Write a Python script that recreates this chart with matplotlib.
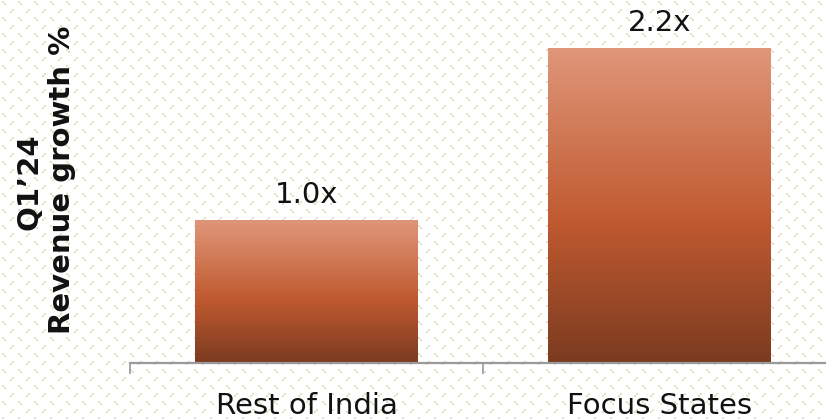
import numpy as np
import matplotlib
matplotlib.use("Agg")
import matplotlib.pyplot as plt
from matplotlib.colors import LinearSegmentedColormap

categories = ["Rest of India", "Focus States"]
growth = [1.0, 2.2]
value_labels = ["1.0x", "2.2x"]
ylabel_lines = ["Q1\u201924", "Revenue growth %"]

W, H, DPI = 826, 419, 100
fig = plt.figure(figsize=(W / DPI, H / DPI), dpi=DPI)
fig.patch.set_facecolor("white")

# dotted lattice backdrop
tile = np.ones((16, 16, 3))
dot = np.array([226, 223, 194]) / 255.0
def put(t, x, y):
    t[y:y + 2, x:x + 2] = dot
for (x, y) in [(2, 1), (4, 3)]:
    put(tile, x, y)
for (x, y) in [(12, 9), (10, 11)]:
    put(tile, x, y)
pattern = np.tile(tile, (H // 16 + 1, W // 16 + 1, 1))[:H, :W]
fig.figimage(pattern, 0, 0, zorder=-10)

ax_left, ax_bottom = 130 / W, (H - 363) / H
ax_w = 706 / W
ax_h = 363 / H
ax = fig.add_axes([ax_left, ax_bottom, ax_w, ax_h])
ax.set_zorder(5)
ax.patch.set_alpha(0)

x = np.arange(len(categories))
bars = ax.bar(x, growth, width=0.63, color="none", edgecolor="none", zorder=2)
ax.set_xlim(-0.5, len(categories) - 0.5)
ax.set_ylim(0, 2.535)

cmap = LinearSegmentedColormap.from_list(
    "copper_fade",
    [(0.0, "#7b3b20"), (0.45, "#c05a30"), (1.0, "#e0977a")],
)
grad = np.linspace(0, 1, 256).reshape(-1, 1)
for b in bars:
    x0, y0 = b.get_x(), b.get_y()
    x1, y1 = x0 + b.get_width(), y0 + b.get_height()
    im = ax.imshow(grad, cmap=cmap, origin="lower", aspect="auto",
                   extent=(x0, x1, y0, y1), zorder=2, interpolation="bilinear")
    im.set_clip_path(b)

for b, lab in zip(bars, value_labels):
    ax.annotate(lab, (b.get_x() + b.get_width() / 2, b.get_height()),
                xytext=(0, 12), textcoords="offset points",
                ha="center", va="baseline", fontsize=21, color="#111111")

for s in ["left", "right", "top"]:
    ax.spines[s].set_visible(False)
ax.spines["bottom"].set_color("#9a9a9a")
ax.spines["bottom"].set_linewidth(1.6)
ax.set_yticks([])
ax.set_xticks(x)
ax.set_xticklabels(categories, fontsize=21, color="#111111")
ax.tick_params(axis="x", which="major", length=0, pad=21)
ax.set_xticks(np.arange(-0.5, len(categories)), minor=True)
ax.tick_params(axis="x", which="minor", length=8, width=1.2, color="#9a9a9a")
ax.set_xlim(-0.5, len(categories) - 0.5)
ax.set_ylim(0, 2.535)

fig.text(30 / W, 1 - 182 / H, ylabel_lines[0], rotation=90, ha="center", va="center",
         fontsize=21, fontweight="bold", color="#111111")
fig.text(62 / W, 1 - 180 / H, ylabel_lines[1], rotation=90, ha="center", va="center",
         fontsize=21, fontweight="bold", color="#111111")

fig.savefig("out.png", dpi=DPI)
